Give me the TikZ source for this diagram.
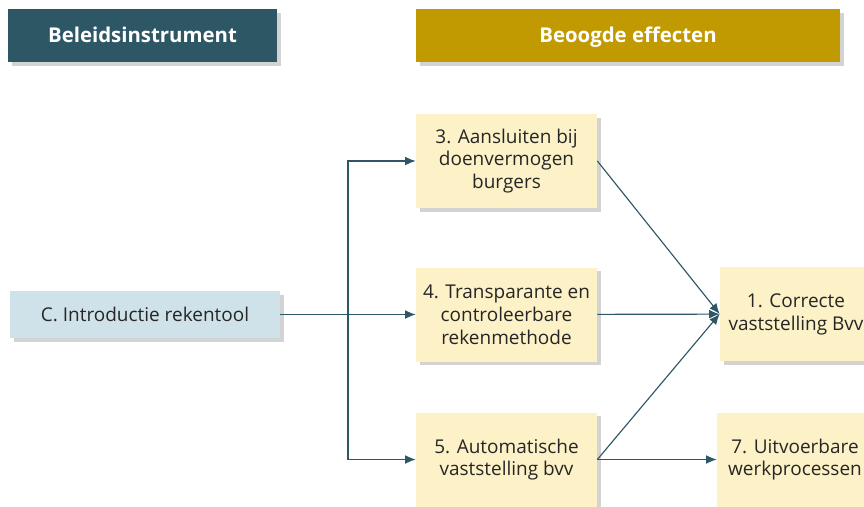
\documentclass[tikz,border=0pt]{standalone}
\usepackage{fontspec}
\setmainfont{Open Sans}
\usetikzlibrary{arrows.meta,shadows}
\definecolor{petrol}{HTML}{2E5766}
\definecolor{oker}{HTML}{C09A00}
\definecolor{lichtblauw}{HTML}{CFE2EA}
\definecolor{lichtgeel}{HTML}{FDF1C7}
\tikzset{
	kop/.style={fill=#1,text=white,font=\fontsize{11.6}{14}\selectfont\bfseries,text height=10pt,text depth=2pt,minimum height=1.06cm,drop shadow={shadow xshift=2pt,shadow yshift=-2pt,opacity=.35}},
	instrument/.style={fill=lichtblauw,text=black!85,font=\fontsize{10.8}{13}\selectfont,minimum width=5.4cm,minimum height=.94cm,drop shadow={shadow xshift=2pt,shadow yshift=-2pt,opacity=.35}},
	effect/.style={fill=lichtgeel,text=black!85,font=\fontsize{10.8}{13}\selectfont,align=center,minimum height=1.88cm,drop shadow={shadow xshift=2pt,shadow yshift=-2pt,opacity=.35}},
	pijl/.style={draw=petrol,line width=.65pt,->},
}
\begin{document}
\begin{tikzpicture}[>={Latex[length=6pt,width=5pt]}]
	\useasboundingbox (0,0) rectangle (17.28,-10.12);
	\clip (0,0) rectangle (17.28,-10.12);
	% koppen
	\node[kop=petrol,minimum width=5.38cm] (kopinstr) at (2.85,-.71) {Beleidsinstrument};
	\node[kop=oker,minimum width=8.48cm] (kopeff) at (12.56,-.71) {Beoogde effecten};
	% instrument
	\node[instrument] (rekentool) at (2.9,-6.29) {C. Introductie rekentool};
	% effecten
	\node[effect,minimum width=3.62cm] (aansluiten) at (10.13,-3.22) {3. Aansluiten bij\\doenvermogen\\burgers};
	\node[effect,minimum width=3.62cm] (transparant) at (10.13,-6.29) {4. Transparante en\\controleerbare\\rekenmethode};
	\node[effect,minimum width=3.62cm] (automatisch) at (10.13,-9.19) {5. Automatische\\vaststelling bvv};
	\node[effect,minimum width=3.04cm] (correct) at (15.92,-6.28) {1. Correcte\\vaststelling Bvv};
	\node[effect,minimum width=3.12cm] (uitvoerbaar) at (15.9,-9.19) {7. Uitvoerbare\\werkprocessen};
	% verbindingen
	\coordinate (splits) at (6.96,-6.29);
	\draw[pijl] (rekentool) -- (transparant);
	\draw[pijl] (splits |- automatisch.west) -- (splits |- aansluiten.west) -- (aansluiten);
	\draw[pijl] (splits |- automatisch.west) -- (automatisch);
	\draw[pijl] (aansluiten.east) -- (correct.west);
	\draw[pijl] (transparant) -- (correct);
	\draw[pijl] (automatisch.east) -- (correct.west);
	\draw[pijl] (automatisch) -- (uitvoerbaar);
\end{tikzpicture}
\end{document}
